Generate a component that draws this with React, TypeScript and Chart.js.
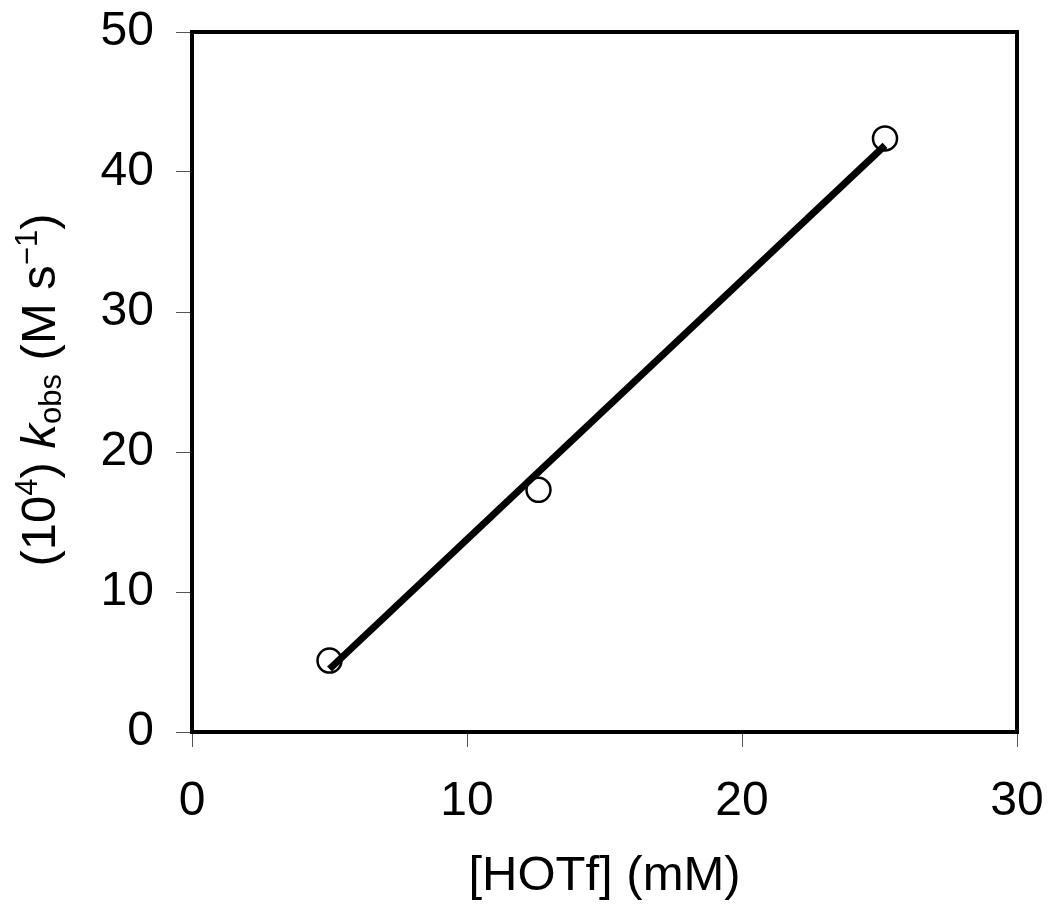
import React, { useEffect, useRef } from "react";
import { Chart, registerables } from "chart.js";

Chart.register(...registerables);

const pointX = [5.0, 12.6, 25.2];
const pointY = [5.1, 17.3, 42.4];
const fitX = [5.0, 25.2];
const fitY = [4.5, 41.9];
const xTicks = [0, 10, 20, 30];
const yTicks = [0, 10, 20, 30, 40, 50];
const xTitle = "[HOTf] (mM)";

const FONT = "'Liberation Sans', Arial, Helvetica, sans-serif";

const framePlugin = {
  id: "frame",
  afterDatasetsDraw(chart: any) {
    const { ctx, chartArea } = chart;
    ctx.save();
    ctx.strokeStyle = "#000";
    ctx.lineWidth = 4;
    ctx.strokeRect(chartArea.left, chartArea.top, chartArea.right - chartArea.left, chartArea.bottom - chartArea.top);
    ctx.restore();
  },
  afterDraw(chart: any) {
    const { ctx, chartArea } = chart;
    const cx = (chartArea.left + chartArea.right) / 2;
    const cy = (chartArea.top + chartArea.bottom) / 2;
    ctx.save();
    ctx.fillStyle = "#000";
    // x title
    ctx.font = `49px ${FONT}`;
    ctx.textAlign = "center";
    ctx.textBaseline = "alphabetic";
    ctx.fillText(xTitle, cx, 890);
    // y title with rich formatting
    const segs = [
      { t: "(10", size: 49, style: "", dy: 0 },
      { t: "4", size: 31, style: "", dy: -18 },
      { t: ") ", size: 49, style: "", dy: 0 },
      { t: "k", size: 49, style: "italic ", dy: 0 },
      { t: "obs", size: 31, style: "", dy: 6 },
      { t: " (M s", size: 49, style: "", dy: 0 },
      { t: "\u22121", size: 31, style: "", dy: -18 },
      { t: ")", size: 49, style: "", dy: 0 },
    ];
    ctx.translate(55, cy + 8);
    ctx.rotate(-Math.PI / 2);
    ctx.textAlign = "left";
    let total = 0;
    const widths = segs.map((s) => {
      ctx.font = `${s.style}${s.size}px ${FONT}`;
      const w = ctx.measureText(s.t).width;
      total += w;
      return w;
    });
    let x = -total / 2;
    segs.forEach((s, i) => {
      ctx.font = `${s.style}${s.size}px ${FONT}`;
      ctx.fillText(s.t, x, s.dy);
      x += widths[i];
    });
    ctx.restore();
  },
};

export default function App() {
  const ref = useRef<HTMLCanvasElement>(null);
  useEffect(() => {
    if (!ref.current) return;
    const chart = new Chart(ref.current, {
      type: "scatter",
      data: {
        datasets: [
          {
            type: "line",
            data: fitX.map((x, i) => ({ x, y: fitY[i] })),
            borderColor: "#000",
            borderWidth: 7,
            pointRadius: 0,
            fill: false,
            order: 0,
          } as any,
          {
            data: pointX.map((x, i) => ({ x, y: pointY[i] })),
            pointRadius: 12,
            pointBorderWidth: 2.5,
            pointBorderColor: "#000",
            pointBackgroundColor: "rgba(255,255,255,0)",
            borderColor: "#000",
            backgroundColor: "rgba(255,255,255,0)",
            order: 1,
          },
        ],
      },
      options: {
        animation: false,
        responsive: false,
        layout: { padding: { left: 0, top: 32, right: 33, bottom: 0 } },
        plugins: { legend: { display: false }, tooltip: { enabled: false } },
        scales: {
          x: {
            type: "linear",
            min: 0,
            max: 30,
            afterBuildTicks: (s: any) => {
              s.ticks = xTicks.map((v) => ({ value: v }));
            },
            afterFit: (s: any) => {
              s.height = 177;
              s.paddingLeft = 0;
              s.paddingRight = 0;
              s.paddingTop = 0;
              s.paddingBottom = 0;
            },
            ticks: { color: "#000", font: { family: FONT, size: 48 }, padding: 26, maxRotation: 0 },
            grid: { drawOnChartArea: false, drawTicks: true, tickLength: 15, color: "#555", lineWidth: 1 },
            border: { display: false },
          },
          y: {
            type: "linear",
            min: 0,
            max: 50,
            afterBuildTicks: (s: any) => {
              s.ticks = yTicks.map((v) => ({ value: v }));
            },
            afterFit: (s: any) => {
              s.width = 192;
              s.paddingLeft = 0;
              s.paddingRight = 0;
              s.paddingTop = 0;
              s.paddingBottom = 0;
            },
            ticks: { color: "#000", font: { family: FONT, size: 48 }, padding: 22 },
            grid: { drawOnChartArea: false, drawTicks: true, tickLength: 16, color: "#555", lineWidth: 1 },
            border: { display: false },
          },
        },
      },
      plugins: [framePlugin],
    });
    return () => chart.destroy();
  }, []);
  return (
    <div style={{ position: "absolute", left: 0, top: 0, width: 1050, height: 909, background: "#fff" }}>
      <canvas ref={ref} width={1050} height={909} style={{ display: "block" }} />
    </div>
  );
}
